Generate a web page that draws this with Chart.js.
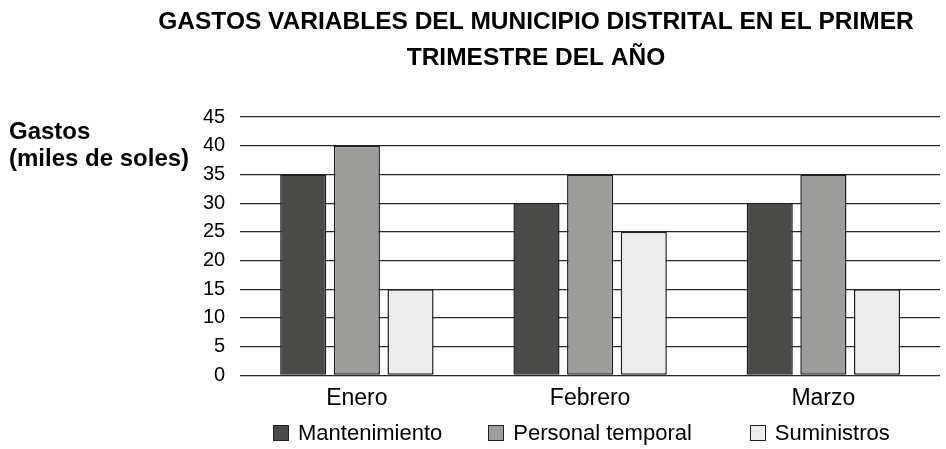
<!DOCTYPE html>
<html>
<head>
<meta charset="utf-8">
<script src="https://cdn.jsdelivr.net/npm/chart.js@4.4.1/dist/chart.umd.min.js"></script>
<style>
  html, body { margin: 0; padding: 0; background: #fff; }
  #wrap { width: 946px; height: 449px; position: relative; }
  #legend {
    position: absolute; left: 273px; top: 422px;
    display: flex; align-items: center;
    font-family: 'Liberation Sans', Arial, sans-serif; font-size: 22px; line-height: 22px; color: #000;
  }
  .legend-item { display: flex; align-items: center; white-space: nowrap; }
  .legend-item:nth-child(1) { margin-right: 46px; }
  .legend-item:nth-child(2) { margin-right: 58px; }
  .color-box { width: 14px; height: 14px; border: 1px solid #222; margin-right: 9px; }
</style>
</head>
<body>
<div id="wrap">
  <canvas id="gastosChart"></canvas>
  <div id="legend"></div>
</div>
<script>
// datos
const meses = ['Enero', 'Febrero', 'Marzo'];
const mantenimiento = [35, 30, 30];
const personalTemporal = [40, 35, 35];
const suministros = [15, 25, 15];
const yTicks = [0, 5, 10, 15, 20, 25, 30, 35, 40, 45];

const tituloLineas = ['GASTOS VARIABLES DEL MUNICIPIO DISTRITAL EN EL PRIMER', 'TRIMESTRE DEL AÑO'];
const ejeYLineas = ['Gastos', '(miles de soles)'];

const FONT = "'Liberation Sans', Arial, sans-serif";

// titulo y rotulo del eje Y dibujados a mano (van descentrados en el original)
const textosExtra = {
    id: 'textosExtra',
    afterDraw(chart) {
        const ctx = chart.ctx;
        ctx.save();
        ctx.fillStyle = '#000';
        ctx.font = 'bold 24.5px ' + FONT;
        ctx.textAlign = 'center';
        ctx.textBaseline = 'middle';
        ctx.fillText(tituloLineas[0], 536, 22);
        ctx.fillText(tituloLineas[1], 536, 58);

        ctx.font = 'bold 24px ' + FONT;
        ctx.textAlign = 'left';
        ctx.fillText(ejeYLineas[0], 9, 132);
        ctx.fillText(ejeYLineas[1], 9, 159);
        ctx.restore();
    }
};

function makeDataset(label, data, color) {
    return {
        label: label,
        data: data,
        backgroundColor: color,
        borderColor: '#1e1e1e',
        borderWidth: 1.5,
        borderSkipped: false,
        categoryPercentage: 0.69,
        barPercentage: 0.86
    };
}

const ctx = document.getElementById('gastosChart').getContext('2d');
const chart = new Chart(ctx, {
    type: 'bar',
    data: {
        labels: meses,
        datasets: [
            makeDataset('Mantenimiento', mantenimiento, '#4a4a48'),
            makeDataset('Personal temporal', personalTemporal, '#9d9d9b'),
            makeDataset('Suministros', suministros, '#ececec')
        ]
    },
    options: {
        responsive: true,
        maintainAspectRatio: false,
        animation: false,
        layout: {
            padding: { top: 117, left: 188, right: 6, bottom: 28 }
        },
        plugins: {
            title: { display: false },
            tooltip: { enabled: false },
            legend: { display: false }
        },
        scales: {
            x: {
                grid: { display: false, drawTicks: false },
                border: { display: false },
                ticks: {
                    color: '#000',
                    font: { family: FONT, size: 23 },
                    padding: 9
                }
            },
            y: {
                min: 0,
                max: 45,
                afterBuildTicks: axis => {
                    axis.ticks = yTicks.map(v => ({ value: v }));
                },
                grid: {
                    color: '#2a2a2a',
                    lineWidth: 1.2,
                    drawTicks: false
                },
                border: { display: false },
                ticks: {
                    autoSkip: false,
                    color: '#000',
                    font: { family: FONT, size: 20 },
                    padding: 15
                }
            }
        }
    },
    plugins: [textosExtra]
});

// leyenda en HTML, a partir de los datasets
const legendContainer = document.getElementById('legend');
legendContainer.innerHTML = '';
chart.data.datasets.forEach(ds => {
    const legendItem = document.createElement('div');
    legendItem.className = 'legend-item';

    const colorBox = document.createElement('div');
    colorBox.className = 'color-box';
    colorBox.style.backgroundColor = ds.backgroundColor;

    legendItem.appendChild(colorBox);
    legendItem.appendChild(document.createTextNode(ds.label));
    legendContainer.appendChild(legendItem);
});
</script>
</body>
</html>
